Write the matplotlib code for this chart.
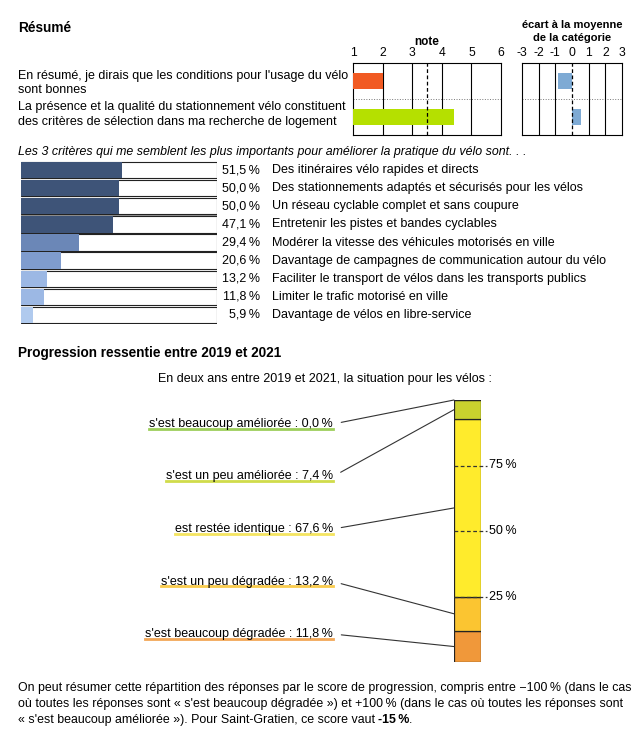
import matplotlib
matplotlib.use('Agg')
import matplotlib.pyplot as plt
from matplotlib.lines import Line2D
from matplotlib.text import Text
import matplotlib.transforms as mtransforms

plt.rcParams['font.family'] = ['Liberation Sans', 'DejaVu Sans']

# --- data ---
resume_questions = [
    "En résumé, je dirais que les conditions pour l'usage du vélo\nsont bonnes",
    "La présence et la qualité du stationnement vélo constituent\ndes critères de sélection dans ma recherche de logement",
]
resume_notes = [2.0, 4.4]
note_mean = 3.5
resume_ecarts = [-0.85, 0.55]
note_ticks = [1, 2, 3, 4, 5, 6]
ecart_ticks = [-3, -2, -1, 0, 1, 2, 3]
ecart_ticklabels = ['-3', '-2', '-1', '0', '1', '2', '3']

criteres = [
    "Des itinéraires vélo rapides et directs",
    "Des stationnements adaptés et sécurisés pour les vélos",
    "Un réseau cyclable complet et sans coupure",
    "Entretenir les pistes et bandes cyclables",
    "Modérer la vitesse des véhicules motorisés en ville",
    "Davantage de campagnes de communication autour du vélo",
    "Faciliter le transport de vélos dans les transports publics",
    "Limiter le trafic motorisé en ville",
    "Davantage de vélos en libre-service",
]
criteres_pct = [51.5, 50.0, 50.0, 47.1, 29.4, 20.6, 13.2, 11.8, 5.9]

# bottom to top of the stacked bar
progression_labels = [
    "s'est beaucoup dégradée",
    "s'est un peu dégradée",
    "est restée identique",
    "s'est un peu améliorée",
    "s'est beaucoup améliorée",
]
progression_pct = [11.8, 13.2, 67.6, 7.4, 0.0]
progression_ticks = [25, 50, 75]
score = -15

# --- styles ---
W, H = 640, 736
note_colors = ['#f15a22', '#b5e000']
ecart_color = '#7eaad4'
seg_colors = ['#f0983a', '#fbc531', '#ffeb2c', '#c9d12e', '#8dc63f']
line_colors = ['#f0983a', '#f9c22d', '#f3e045', '#c8d62b', '#8cc63e']
FS = 9.0


def crit_color(v):
    if v >= 40:
        return '#3e5478'
    if v >= 25:
        return '#6b87b7'
    if v >= 15:
        return '#7f9cce'
    if v >= 10:
        return '#9cb8e4'
    return '#b0caee'


def rect(x0, y0, x1, y1):
    return [x0 / W, 1 - y1 / H, (x1 - x0) / W, (y1 - y0) / H]


def ftext(x, y, s, **kw):
    kw.setdefault('fontsize', FS)
    kw.setdefault('va', 'center')
    return fig.text(x / W, 1 - y / H, s, **kw)


fig = plt.figure(figsize=(W / 100, H / 100), dpi=100)

# ---------------- Résumé ----------------
ftext(18, 28, "Résumé", fontsize=9.8, fontweight='bold')
ftext(427, 42, "note", fontsize=8.5, fontweight='bold', ha='center')
ftext(572, 25, "écart à la moyenne", fontsize=8, fontweight='bold', ha='center')
ftext(572, 38, "de la catégorie", fontsize=8, fontweight='bold', ha='center')

for i, q in enumerate(resume_questions):
    ftext(18, 83 + i * 31.5, q, linespacing=1.3)

ax1 = fig.add_axes(rect(353, 63, 501, 135))
ax1.barh(range(len(resume_notes)), [v - 1 for v in resume_notes], left=1,
         height=0.46, color=note_colors, zorder=3)
ax1.set_xlim(1, 6)
ax1.set_ylim(1.5, -0.5)
for t in note_ticks[1:-1]:
    ax1.axvline(t, color='black', lw=0.8, zorder=2)
ax1.axvline(note_mean, color='black', lw=0.9, ls=(0, (3, 2)), zorder=4)
ax1.axhline(0.5, color='#777777', lw=0.7, ls=':', zorder=1)
ax1.set_xticks(note_ticks)
ax1.set_yticks([])
ax1.xaxis.tick_top()
ax1.tick_params(axis='x', length=0, pad=3, labelsize=8.7)
for s in ax1.spines.values():
    s.set_linewidth(0.8)

ax2 = fig.add_axes(rect(522, 63, 622, 135))
ax2.barh(range(len(resume_ecarts)), resume_ecarts, height=0.46,
         color=ecart_color, zorder=3)
ax2.set_xlim(-3, 3)
ax2.set_ylim(1.5, -0.5)
for t in ecart_ticks[1:-1]:
    if t != 0:
        ax2.axvline(t, color='black', lw=0.8, zorder=2)
ax2.axvline(0, color='black', lw=0.9, ls=(0, (3, 2)), zorder=4)
ax2.axhline(0.5, color='#777777', lw=0.7, ls=':', zorder=1)
ax2.set_xticks(ecart_ticks)
ax2.set_xticklabels(ecart_ticklabels)
ax2.set_yticks([])
ax2.xaxis.tick_top()
ax2.tick_params(axis='x', length=0, pad=3, labelsize=8.7)
for s in ax2.spines.values():
    s.set_linewidth(0.8)

# ---------------- critères ----------------
ftext(18, 152, "Les 3 critères qui me semblent les plus importants pour améliorer la pratique du vélo sont. . .",
      style='italic', fontsize=8.9)

ax3 = fig.add_axes(rect(21, 161, 217, 324))
n = len(criteres)
# light shadow under each box
ax3.barh([i + 0.06 for i in range(n)], [100] * n, height=0.9, color='#999999',
         edgecolor='none')
ax3.barh(range(n), [100] * n, height=0.9, color='white', edgecolor='#222222', lw=0.8)
ax3.barh(range(n), criteres_pct, height=0.9, color=[crit_color(v) for v in criteres_pct],
         edgecolor='none')
ax3.set_xlim(0, 100)
ax3.set_ylim(n - 0.5, -0.5)
ax3.axis('off')
tr = mtransforms.blended_transform_factory(ax3.transAxes, ax3.transData)
for i, (lab, v) in enumerate(zip(criteres, criteres_pct)):
    ax3.text((260 - 21) / 196, i, f"{v:.1f}\u2009%".replace('.', ','), transform=tr,
             ha='right', va='center', fontsize=FS)
    ax3.text((272 - 21) / 196, i, lab, transform=tr, ha='left', va='center', fontsize=FS)

# ---------------- Progression ----------------
ftext(18, 353, "Progression ressentie entre 2019 et 2021", fontsize=9.8, fontweight='bold')
ftext(325, 379, "En deux ans entre 2019 et 2021, la situation pour les vélos :", ha='center')

ax4 = fig.add_axes(rect(454, 400, 481, 662))
bottom = 0
mids = []
for v, c in zip(progression_pct, seg_colors):
    ax4.bar(0, v, bottom=bottom, width=1, color=c, edgecolor='#222222', lw=0.9)
    mids.append(bottom + v / 2)
    bottom += v
ax4.set_xlim(-0.5, 0.5)
ax4.set_ylim(0, 100)
ax4.axis('off')
for t in progression_ticks:
    ax4.plot([-0.5, 0.72], [t, t], color='#333333', lw=0.9, ls=(0, (3, 2)), clip_on=False)
    ax4.text(1.28, t, f"{t}\u2009%", transform=mtransforms.blended_transform_factory(ax4.transAxes, ax4.transData),
             ha='left', va='center', fontsize=FS)

anns = []
for k in range(len(progression_labels)):
    i = len(progression_labels) - 1 - k  # top to bottom
    y = 424 + k * 52.5
    s = f"{progression_labels[i]} : {progression_pct[i]:.1f}\u2009%".replace('.', ',')
    a = ax4.annotate(s, xy=(-0.5, mids[i]), xytext=(333, H - y), textcoords='figure pixels',
                     ha='right', va='center', fontsize=FS, annotation_clip=False,
                     arrowprops=dict(arrowstyle='-', color='#333333', lw=0.8,
                                     shrinkA=4, shrinkB=0, relpos=(1, 0.5)))
    anns.append((a, line_colors[i]))

# ---------------- texte final ----------------
lines = [
    "On peut résumer cette répartition des réponses par le score de progression, compris entre \u2212100\u2009% (dans le cas",
    "où toutes les réponses sont « s'est beaucoup dégradée ») et +100\u2009% (dans le cas où toutes les réponses sont",
    "« s'est beaucoup améliorée »). Pour Saint-Gratien, ce score vaut",
]
last = None
for i, l in enumerate(lines):
    last = ftext(18, 688 + i * 16, l, fontsize=8.95)

fig.canvas.draw()
r = fig.canvas.get_renderer()
inv = fig.transFigure.inverted()
for a, c in anns:
    bb = Text.get_window_extent(a, r)
    (x0, y0), (x1, _) = inv.transform([(bb.x0, bb.y0 + 1.5), (bb.x1, bb.y0 + 1.5)])
    fig.add_artist(Line2D([x0, x1], [y0, y0], transform=fig.transFigure, color=c,
                          lw=2.0, alpha=0.85, zorder=0))

bb = last.get_window_extent(r)
bold = ftext(bb.x1 + 3, 688 + 2 * 16, f"{score}\u2009%", fontweight='bold', fontsize=8.95)
fig.canvas.draw()
bb2 = bold.get_window_extent(r)
ftext(bb2.x1, 688 + 2 * 16, ".", fontsize=8.95)

fig.savefig('out.png', dpi=100)
